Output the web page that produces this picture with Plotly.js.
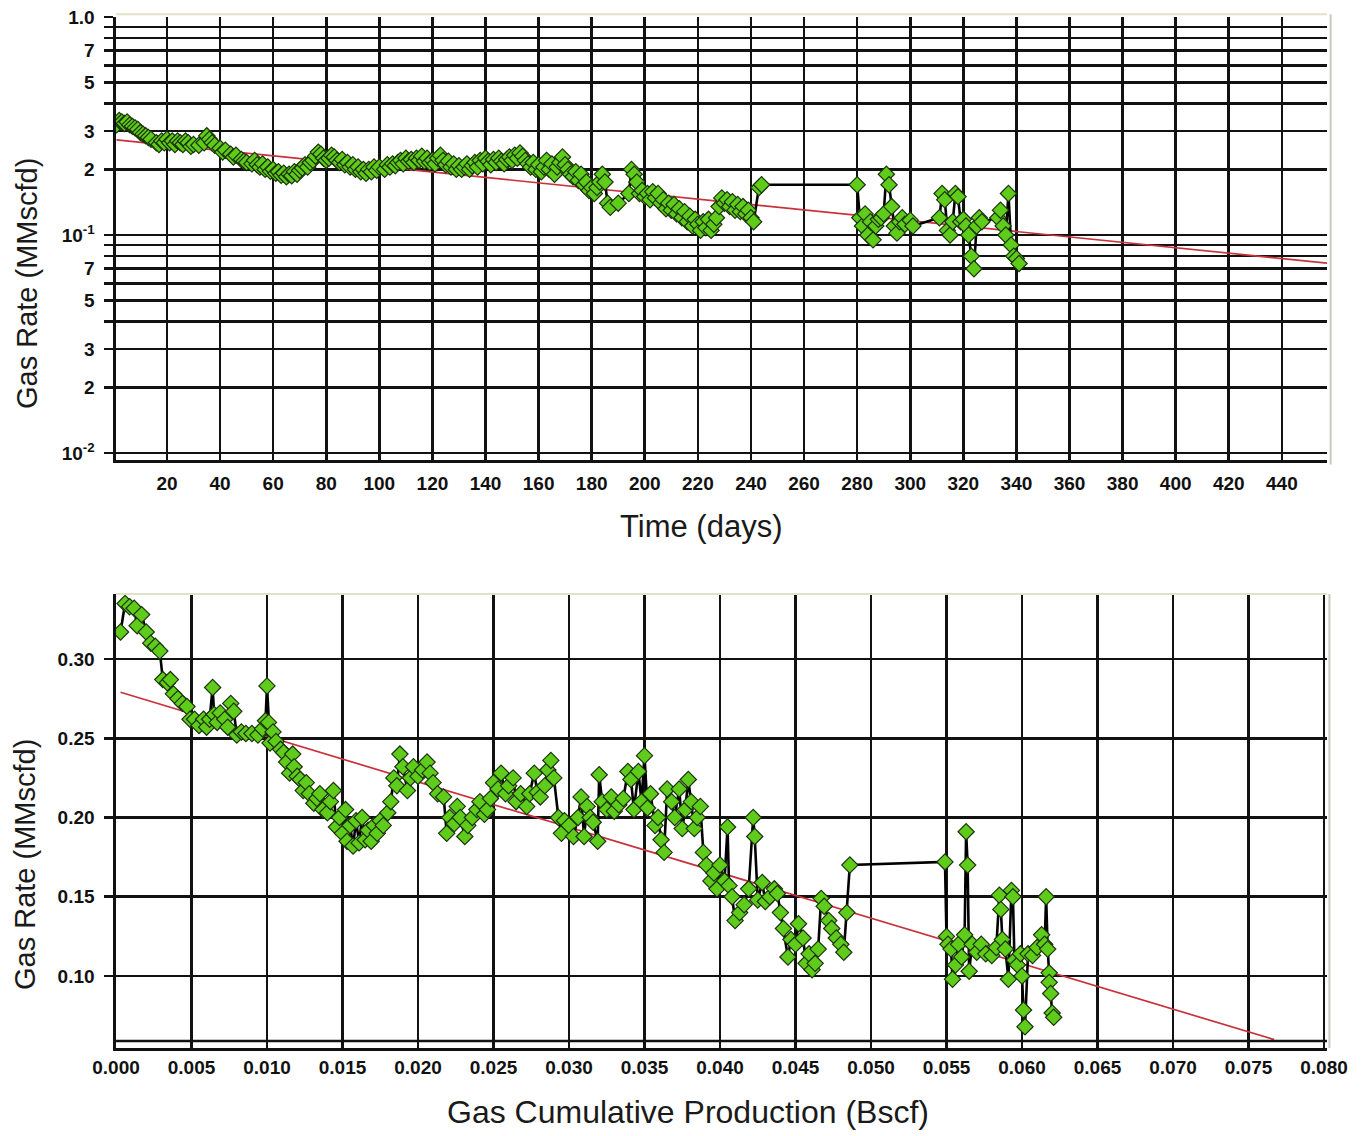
<!DOCTYPE html>
<html>
<head>
<meta charset="utf-8">
<script src="https://cdn.plot.ly/plotly-3.0.1.min.js"></script>
<style>
  html, body { margin: 0; padding: 0; background: #ffffff; }
  #chart { width: 1364px; height: 1136px; }
</style>
</head>
<body>
<div id="chart"></div>
<script>
// ---------- Top chart: gas rate vs time (log scale) ----------
const timeDays = [1,2,3,4,5,6,7,8,9,10,11,12,13,14,16,17,18,19,20,21,22,23,24,25,26,27,28,29,30,32,34,35,36,37,38,40,41,42,44,45,46,48,49,50,52,53,54,55,56,57,58,59,60,61,62,63,64,65,66,67,68,69,70,71,72,73,74,75,76,77,78,79,80,81,82,83,84,85,86,87,88,89,90,91,92,93,94,95,96,97,98,99,100,102,103,104,105,106,107,108,109,110,111,112,113,114,115,116,117,118,119,120,121,122,123,124,125,126,127,128,129,130,131,132,133,134,135,136,137,138,139,140,141,142,143,144,145,146,147,148,149,150,151,152,153,154,155,156,157,158,159,160,161,162,163,164,165,166,167,168,169,170,171,172,173,174,175,176,177,178,179,180,181,182,183,184,185,186,187,190,194,195,196,197,198,199,200,201,202,203,204,205,206,207,208,209,210,211,212,213,214,215,216,217,218,219,220,221,222,223,224,225,226,227,228,229,230,231,232,233,234,235,236,237,238,239,240,241,243,244,280,281,282,283,284,285,286,287,288,289,290,291,292,293,294,295,296,297,298,300,301,311,312,313,314,315,316,317,318,319,320,321,322,323,324,325,326,327,333,334,335,336,337,338,339,340,341];
const rateTime = [0.32,0.335,0.33,0.325,0.33,0.32,0.315,0.31,0.305,0.295,0.29,0.285,0.28,0.275,0.265,0.26,0.27,0.265,0.275,0.265,0.27,0.26,0.27,0.265,0.26,0.27,0.265,0.255,0.26,0.258,0.265,0.285,0.275,0.265,0.258,0.25,0.24,0.245,0.235,0.228,0.232,0.222,0.218,0.215,0.212,0.22,0.21,0.205,0.212,0.2,0.205,0.196,0.2,0.192,0.195,0.188,0.192,0.185,0.19,0.187,0.195,0.19,0.198,0.203,0.21,0.205,0.215,0.22,0.23,0.24,0.235,0.225,0.22,0.225,0.232,0.228,0.22,0.215,0.222,0.21,0.215,0.205,0.21,0.2,0.205,0.195,0.2,0.192,0.2,0.195,0.205,0.198,0.205,0.2,0.21,0.205,0.212,0.208,0.215,0.22,0.212,0.225,0.218,0.222,0.215,0.225,0.22,0.23,0.218,0.225,0.215,0.22,0.212,0.225,0.232,0.22,0.21,0.218,0.205,0.212,0.2,0.208,0.2,0.205,0.212,0.2,0.208,0.215,0.205,0.22,0.212,0.225,0.218,0.21,0.222,0.215,0.225,0.218,0.212,0.222,0.228,0.22,0.232,0.225,0.238,0.23,0.22,0.212,0.205,0.215,0.2,0.21,0.195,0.205,0.22,0.2,0.212,0.19,0.205,0.215,0.228,0.21,0.2,0.19,0.185,0.195,0.178,0.19,0.17,0.175,0.16,0.165,0.155,0.165,0.175,0.19,0.175,0.14,0.134,0.14,0.155,0.2,0.19,0.175,0.155,0.16,0.15,0.155,0.145,0.158,0.148,0.155,0.14,0.145,0.132,0.14,0.13,0.138,0.125,0.132,0.12,0.128,0.115,0.122,0.11,0.118,0.112,0.105,0.115,0.108,0.118,0.105,0.112,0.12,0.135,0.148,0.14,0.145,0.135,0.142,0.13,0.138,0.128,0.135,0.125,0.13,0.12,0.115,0.165,0.17,0.17,0.12,0.11,0.125,0.1,0.115,0.095,0.11,0.118,0.12,0.125,0.19,0.17,0.135,0.11,0.102,0.115,0.12,0.112,0.117,0.11,0.12,0.155,0.145,0.105,0.1,0.115,0.155,0.15,0.115,0.118,0.11,0.1,0.08,0.07,0.11,0.12,0.115,0.12,0.13,0.11,0.1,0.155,0.09,0.08,0.078,0.074];
const fitTimeDays = [1, 457];
const fitTimeRate = [0.273, 0.0743];

const topYTickVals = [0.01,0.02,0.03,0.05,0.07,0.1,0.2,0.3,0.5,0.7,1.0];
const topYTickText = ['10<sup>-2</sup>','2','3','5','7','10<sup>-1</sup>','2','3','5','7','1.0'];
const topYMinorVals = [0.04,0.06,0.08,0.09,0.4,0.6,0.8,0.9];

// ---------- Bottom chart: gas rate vs cumulative production ----------
const cumProd = [0.0003,0.0006,0.0009,0.0012,0.0014,0.0017,0.0020,0.0023,0.0026,0.0029,0.0031,0.0034,0.0036,0.0038,0.0041,0.0044,0.0047,0.0049,0.0052,0.0055,0.0058,0.0060,0.0062,0.0064,0.0065,0.0067,0.0069,0.0072,0.0074,0.0076,0.0078,0.0080,0.0083,0.0086,0.0090,0.0094,0.0097,0.0099,0.0100,0.0101,0.0102,0.0104,0.0106,0.0109,0.0111,0.0113,0.0115,0.0117,0.0118,0.0120,0.0122,0.0124,0.0126,0.0128,0.0131,0.0133,0.0135,0.0137,0.0140,0.0142,0.0144,0.0146,0.0148,0.0150,0.0152,0.0153,0.0155,0.0157,0.0159,0.0161,0.0163,0.0165,0.0167,0.0169,0.0171,0.0173,0.0175,0.0177,0.0180,0.0182,0.0184,0.0186,0.0188,0.0190,0.0193,0.0195,0.0197,0.0200,0.0203,0.0206,0.0208,0.0210,0.0213,0.0217,0.0219,0.0221,0.0224,0.0226,0.0228,0.0231,0.0233,0.0236,0.0239,0.0241,0.0244,0.0246,0.0248,0.0250,0.0253,0.0255,0.0258,0.0260,0.0263,0.0265,0.0268,0.0272,0.0274,0.0277,0.0279,0.0281,0.0284,0.0286,0.0288,0.0290,0.0293,0.0295,0.0297,0.0300,0.0303,0.0306,0.0308,0.0310,0.0312,0.0314,0.0316,0.0319,0.0320,0.0322,0.0325,0.0328,0.0330,0.0333,0.0336,0.0339,0.0341,0.0343,0.0346,0.0348,0.0350,0.0352,0.0354,0.0357,0.0359,0.0361,0.0363,0.0365,0.0368,0.0370,0.0373,0.0375,0.0377,0.0379,0.0381,0.0383,0.0385,0.0387,0.0389,0.0391,0.0394,0.0396,0.0398,0.0400,0.0403,0.0405,0.0406,0.0408,0.0410,0.0413,0.0416,0.0419,0.0422,0.0423,0.0425,0.0428,0.0430,0.0433,0.0436,0.0438,0.0440,0.0442,0.0445,0.0447,0.0450,0.0452,0.0455,0.0457,0.0459,0.0461,0.0463,0.0465,0.0467,0.0469,0.0472,0.0474,0.0477,0.0480,0.0482,0.0484,0.0486,0.0549,0.0550,0.0551,0.0553,0.0554,0.0556,0.0558,0.0560,0.0562,0.0563,0.0564,0.0565,0.0567,0.0570,0.0573,0.0576,0.0580,0.0583,0.0585,0.0586,0.0587,0.0589,0.0591,0.0593,0.0594,0.0595,0.0597,0.0599,0.0600,0.0601,0.0602,0.0604,0.0607,0.0610,0.0613,0.0615,0.0616,0.0617,0.0618,0.0618,0.0619,0.0620,0.0621];
const rateCum = [0.317,0.335,0.333,0.332,0.321,0.328,0.317,0.31,0.308,0.305,0.287,0.285,0.287,0.278,0.275,0.272,0.27,0.262,0.262,0.258,0.262,0.257,0.262,0.282,0.265,0.26,0.266,0.262,0.257,0.272,0.267,0.252,0.254,0.253,0.253,0.252,0.256,0.261,0.283,0.26,0.247,0.254,0.248,0.243,0.241,0.235,0.228,0.24,0.232,0.226,0.224,0.217,0.222,0.215,0.209,0.212,0.215,0.205,0.203,0.21,0.217,0.194,0.2,0.19,0.205,0.185,0.195,0.182,0.198,0.184,0.2,0.186,0.192,0.185,0.195,0.19,0.198,0.195,0.203,0.21,0.225,0.22,0.24,0.232,0.217,0.225,0.232,0.226,0.23,0.235,0.228,0.222,0.215,0.213,0.19,0.2,0.196,0.207,0.2,0.188,0.195,0.2,0.205,0.21,0.202,0.205,0.212,0.222,0.218,0.228,0.215,0.22,0.225,0.21,0.215,0.207,0.215,0.228,0.216,0.213,0.22,0.23,0.236,0.225,0.2,0.19,0.198,0.195,0.188,0.2,0.213,0.188,0.207,0.2,0.197,0.185,0.227,0.21,0.205,0.213,0.204,0.208,0.212,0.229,0.224,0.205,0.229,0.21,0.239,0.206,0.215,0.195,0.2,0.186,0.178,0.218,0.21,0.2,0.218,0.193,0.205,0.224,0.21,0.193,0.2,0.207,0.178,0.17,0.16,0.165,0.155,0.17,0.16,0.194,0.157,0.15,0.135,0.14,0.145,0.155,0.2,0.188,0.148,0.159,0.147,0.15,0.155,0.152,0.14,0.13,0.112,0.123,0.12,0.133,0.124,0.108,0.114,0.104,0.108,0.117,0.149,0.144,0.135,0.13,0.124,0.12,0.115,0.14,0.17,0.172,0.125,0.12,0.117,0.098,0.107,0.12,0.112,0.126,0.191,0.17,0.103,0.12,0.115,0.12,0.114,0.113,0.118,0.151,0.142,0.123,0.117,0.098,0.154,0.15,0.11,0.107,0.114,0.1,0.0786,0.068,0.114,0.113,0.118,0.126,0.12,0.15,0.117,0.102,0.096,0.089,0.0767,0.074];
const fitCumX = [0.0003, 0.0767];
const fitCumRate = [0.279, 0.0599];

// ---------- styling ----------
const W = 1364, H = 1136;
const FONT = 'Arial, "Liberation Sans", sans-serif';
const GRID = '#121212';
const GREEN = '#5fcc1c';
const MARKER_EDGE = '#1c340b';
const FIT_RED = '#c8323c';

const xDom = [116 / W, 1327 / W];
const topDom = [1 - 460 / H, 1 - 17 / H];
const botDom = [1 - 1048 / H, 1 - 594 / H];

const tickFont = { family: FONT, size: 19, color: '#111', weight: 'bold' };
const xTitleFont = { family: FONT, size: 31, color: '#1a1a1a' };
const yTitleFont = { family: FONT, size: 29, color: '#1a1a1a' };

const dataStyle = {
  mode: 'lines+markers',
  line: { color: '#000000', width: 2.6 },
  marker: { symbol: 'diamond', size: 12.5, color: GREEN, line: { color: MARKER_EDGE, width: 1.2 } },
  hoverinfo: 'x+y', showlegend: false
};

const traces = [
  { x: fitTimeDays, y: fitTimeRate, xaxis: 'x', yaxis: 'y', mode: 'lines',
    line: { color: FIT_RED, width: 1.7 }, showlegend: false },
  Object.assign({ x: timeDays, y: rateTime, xaxis: 'x', yaxis: 'y' }, dataStyle),
  { x: fitCumX, y: fitCumRate, xaxis: 'x2', yaxis: 'y2', mode: 'lines',
    line: { color: FIT_RED, width: 1.7 }, showlegend: false },
  Object.assign({ x: cumProd, y: rateCum, xaxis: 'x2', yaxis: 'y2' }, dataStyle)
];

const commonX = {
  showgrid: true, gridcolor: GRID, gridwidth: 2.6,
  showline: true, linecolor: GRID, linewidth: 2.6,
  zeroline: false, ticks: '', tickfont: tickFont
};
const commonY = {
  showgrid: true, gridcolor: GRID, gridwidth: 2.6,
  showline: true, linecolor: GRID, linewidth: 2.6,
  zeroline: false, ticks: 'outside', ticklen: 9, tickwidth: 2.6, tickcolor: GRID,
  tickfont: tickFont, ticklabelstandoff: 6
};

const layout = {
  width: W, height: H,
  margin: { l: 0, r: 0, t: 0, b: 0 },
  paper_bgcolor: '#ffffff', plot_bgcolor: '#ffffff',
  font: { family: FONT, color: '#111' },
  showlegend: false,
  xaxis: Object.assign({}, commonX, {
    domain: xDom, anchor: 'y', range: [0.8, 457], ticklabelstandoff: 5,
    tickmode: 'linear', tick0: 0, dtick: 20
  }),
  yaxis: Object.assign({}, commonY, {
    domain: topDom, anchor: 'x', type: 'log', range: [-2.032, 0],
    tickmode: 'array', tickvals: topYTickVals, ticktext: topYTickText,
    minor: { tickmode: 'array', tickvals: topYMinorVals, showgrid: true,
             gridcolor: GRID, gridwidth: 2.6, ticks: 'outside', ticklen: 9, tickwidth: 2.6, tickcolor: GRID }
  }),
  xaxis2: Object.assign({}, commonX, {
    domain: xDom, anchor: 'y2', range: [0, 0.0802], ticklabelstandoff: 1,
    tickmode: 'linear', tick0: 0, dtick: 0.005, tickformat: '.3f'
  }),
  yaxis2: Object.assign({}, commonY, {
    domain: botDom, anchor: 'x2', range: [0.0546, 0.341],
    tickmode: 'linear', tick0: 0, dtick: 0.05, tickformat: '.2f'
  }),
  annotations: [
    { text: 'Time (days)', xref: 'paper', yref: 'paper', x: 701 / W, y: 1 - 526 / H,
      xanchor: 'center', yanchor: 'middle', showarrow: false, font: xTitleFont },
    { text: 'Gas Rate (MMscfd)', xref: 'paper', yref: 'paper', x: 27 / W, y: 1 - 284 / H,
      xanchor: 'center', yanchor: 'middle', textangle: -90, showarrow: false, font: yTitleFont },
    { text: 'Gas Cumulative Production (Bscf)', xref: 'paper', yref: 'paper', x: 688 / W, y: 1 - 1112 / H,
      xanchor: 'center', yanchor: 'middle', showarrow: false, font: { family: FONT, size: 32, color: '#1a1a1a' } },
    { text: 'Gas Rate (MMscfd)', xref: 'paper', yref: 'paper', x: 25 / W, y: 1 - 865 / H,
      xanchor: 'center', yanchor: 'middle', textangle: -90, showarrow: false, font: yTitleFont }
  ],
  shapes: [
    // light frame (top and right) of both plot areas
    { type: 'line', xref: 'x domain', yref: 'y domain', x0: 0, x1: 1, y0: 1.006, y1: 1.006, line: { color: '#e4e0c8', width: 2 } },
    { type: 'line', xref: 'x domain', yref: 'y domain', x0: 1.003, x1: 1.003, y0: -0.01, y1: 1.006, line: { color: '#c9c9c4', width: 2 } },
    { type: 'line', xref: 'x2 domain', yref: 'y2 domain', x0: 0, x1: 1, y0: 1, y1: 1, line: { color: '#e4e0c8', width: 2 } },
    { type: 'line', xref: 'x2 domain', yref: 'y2 domain', x0: 1.002, x1: 1.002, y0: 0, y1: 1, line: { color: '#c9c9c4', width: 2 } },
    // doubled bottom rule of the lower chart
    { type: 'line', xref: 'x2 domain', yref: 'y2 domain', x0: 0, x1: 1, y0: 0.0154, y1: 0.0154, line: { color: GRID, width: 2.6 } }
  ]
};

Plotly.newPlot('chart', traces, layout, { staticPlot: true, displayModeBar: false });
</script>
</body>
</html>
